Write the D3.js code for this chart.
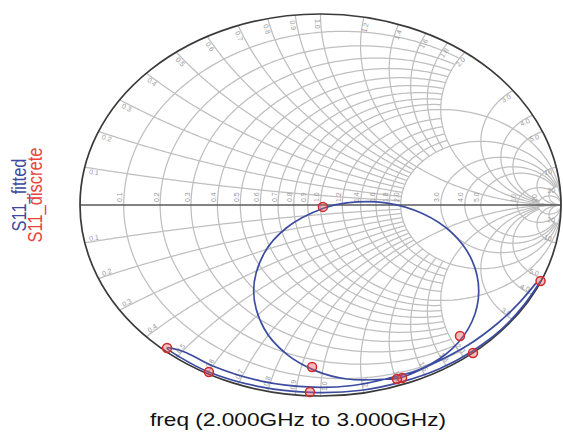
<!DOCTYPE html>
<html><head><meta charset="utf-8">
<script src="https://cdn.jsdelivr.net/npm/d3@7"></script>
<style>body{margin:0;background:#fff} svg{display:block}</style>
</head><body>
<svg id="chart" width="563" height="438"></svg>
<script>
// ---- data ----
const gridValues = [0.1,0.2,0.3,0.4,0.5,0.6,0.7,0.8,0.9,1.0,1.2,1.4,1.6,1.8,2.0,3.0,4.0,5.0,10,20];
const gridLabels = ["0.1","0.2","0.3","0.4","0.5","0.6","0.7","0.8","0.9","1.0","1.2","1.4","1.6","1.8","2.0","3.0","4.0","5.0","10","20"];
const gridExtent = [2,2,2,2,2,2,2,2,2,1e4,2,2,2,2,1e4,20,20,20,1e4,1e4];

const seriesNames = ["S11_fitted","S11_discrete"];
const axisTitle = "freq (2.000GHz to 3.000GHz)";

const fittedRe = [0.915,0.844,0.751,0.628,0.495,0.337,0.171,-0.043,-0.255,-0.465,-0.581,-0.638,
  -0.568,-0.448,-0.247,-0.033,0.133,0.271,0.424,0.549,0.630,0.658,0.630,0.549,0.424,0.271,0.109,0.015,
  -0.141,-0.234,-0.278,-0.234,-0.141,-0.022,0.109,0.255,0.330,0.448,0.614,0.737,0.824,0.896];
const fittedIm = [-0.398,-0.527,-0.653,-0.768,-0.857,-0.926,-0.970,-0.981,-0.951,-0.874,-0.799,-0.749,
  -0.768,-0.843,-0.922,-0.954,-0.945,-0.911,-0.855,-0.751,-0.610,-0.450,-0.290,-0.149,-0.045,0.011,0.011,-0.016,
  -0.119,-0.252,-0.450,-0.648,-0.781,-0.867,-0.911,-0.913,-0.905,-0.843,-0.733,-0.619,-0.515,-0.409];

const discreteRe = [0.915,0.634,0.339,0.318,0.580,0.010,-0.035,-0.044,-0.464,-0.638];
const discreteIm = [-0.398,-0.775,-0.906,-0.911,-0.686,-0.010,-0.848,-0.979,-0.874,-0.749];

// ---- layout ----
const cx = 320.5, cy = 205, rx = 240.5, ry = 191;
const svg = d3.select("#chart");
const xs = d3.scaleLinear().domain([-1,1]).range([cx-rx, cx+rx]);
const ys = d3.scaleLinear().domain([-1,1]).range([cy+ry, cy-ry]);
const line = d3.line().x(d=>xs(d[0])).y(d=>ys(d[1]));

function gamma(r, x){
  const den = (r+1)*(r+1) + x*x;
  return [(r*r + x*x - 1)/den, 2*x/den];
}

const grid = svg.append("g").attr("fill","none").attr("stroke","#bfbfbf").attr("stroke-width",1.25);
gridValues.forEach((v,i)=>{
  const L = gridExtent[i];
  const sMax = Math.asinh(L), pts = [];
  for(let k=0;k<=400;k++){ const s = -sMax + 2*sMax*k/400; pts.push(gamma(v, Math.sinh(s))); }
  grid.append("path").attr("d", line(pts));
  [1,-1].forEach(sg=>{
    const a = [];
    for(let k=0;k<=300;k++){ const s = sMax*k/300; a.push(gamma(Math.sinh(s), sg*v)); }
    grid.append("path").attr("d", line(a));
  });
});

svg.append("line").attr("x1",xs(-1)).attr("x2",xs(1)).attr("y1",ys(0)).attr("y2",ys(0))
  .attr("stroke","#5a5a5a").attr("stroke-width",1.4);
svg.append("ellipse").attr("cx",xs(0)).attr("cy",ys(0)).attr("rx",xs(1)-xs(0)).attr("ry",ys(0)-ys(1))
  .attr("fill","none").attr("stroke","#3a3a3a").attr("stroke-width",1.7);

const lab = svg.append("g").attr("fill","#999").attr("font-family","Liberation Sans, Arial, sans-serif").attr("font-size",7);
gridValues.forEach((v,i)=>{
  const xr = xs((v-1)/(v+1));
  lab.append("text").attr("transform",`translate(${xr-1.5},${ys(0)-3}) rotate(-90)`)
    .attr("text-anchor","start").text(gridLabels[i]);
  [1,-1].forEach(sg=>{
    const g = gamma(0, sg*v);
    const px = xs(g[0]), py = ys(g[1]);
    let dx = xs(0)-px, dy = ys(0)-py; const n = Math.hypot(dx,dy); dx/=n; dy/=n;
    let nx = -dy, ny = dx;
    if ((sg>0 && ny<0) || (sg<0 && ny>0)) { nx=-nx; ny=-ny; }
    const qx = px + dx*5 + nx*3.5, qy = py + dy*5 + ny*3.5;
    let ang = Math.atan2(dy,dx)*180/Math.PI;
    let anchor = "start";
    if (ang > 90.5 || ang <= -90.5) { ang -= 180; anchor = "end"; }
    lab.append("text").attr("transform",`translate(${qx},${qy}) rotate(${ang})`)
      .attr("text-anchor",anchor).attr("dominant-baseline","central").text(gridLabels[i]);
  });
});

const fitted = fittedRe.map((d,i)=>[d, fittedIm[i]]);
svg.append("path").attr("d", d3.line().x(d=>xs(d[0])).y(d=>ys(d[1])).curve(d3.curveCatmullRom.alpha(0.5))(fitted))
  .attr("fill","none").attr("stroke","#3c4ca0").attr("stroke-width",1.7);

svg.append("g").selectAll("circle").data(discreteRe.map((d,i)=>[d, discreteIm[i]])).join("circle")
  .attr("cx",d=>xs(d[0])).attr("cy",d=>ys(d[1])).attr("r",4.5)
  .attr("fill","rgba(226,90,90,0.4)").attr("stroke","#d0282a").attr("stroke-width",1.5);

const font = "Liberation Sans, Arial, sans-serif";
svg.append("text").attr("transform","translate(25.5,195) scale(1.26,1) rotate(-90)")
  .attr("text-anchor","middle").attr("font-family",font).attr("font-size",16.5)
  .attr("fill","#3b4a9e").text(seriesNames[0]);
svg.append("text").attr("transform","translate(42,195) scale(1.26,1) rotate(-90)")
  .attr("text-anchor","middle").attr("font-family",font).attr("font-size",16.5)
  .attr("fill","#e8443a").text(seriesNames[1]);

svg.append("text").attr("transform","translate(298,426) scale(1.26,1)")
  .attr("text-anchor","middle").attr("font-family",font).attr("font-size",18)
  .attr("fill","#111").text(axisTitle);
</script>
</body></html>
